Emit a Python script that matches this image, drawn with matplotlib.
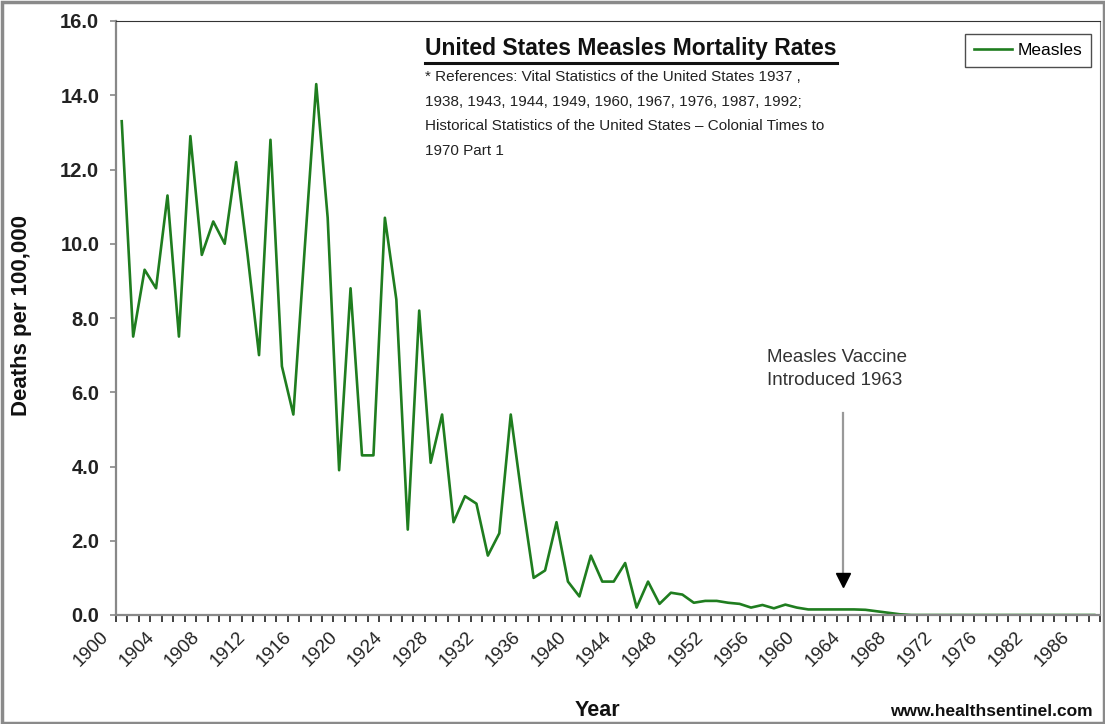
import matplotlib
matplotlib.use("Agg")
import matplotlib.pyplot as plt
import matplotlib.transforms as mtransforms
from matplotlib.lines import Line2D
from matplotlib.patches import Rectangle
import numpy as np

plt.rcParams['font.family'] = ['Liberation Sans', 'DejaVu Sans']

# categories (the original sheet skips a few years after 1976)
years = list(range(1900, 1977)) + [1977, 1978, 1980] + list(range(1982, 1988))
# deaths per 100,000
measles = [13.3, 7.5, 9.3, 8.8, 11.3, 7.5, 12.9, 9.7, 10.6, 10.0,
           12.2, 9.7, 7.0, 12.8, 6.7, 5.4, 9.9, 14.3, 10.7, 3.9,
           8.8, 4.3, 4.3, 10.7, 8.5, 2.3, 8.2, 4.1, 5.4, 2.5,
           3.2, 3.0, 1.6, 2.2, 5.4, 3.1, 1.0, 1.2, 2.5, 0.9,
           0.5, 1.6, 0.9, 0.9, 1.4, 0.2, 0.9, 0.3, 0.6, 0.55,
           0.33, 0.38, 0.38, 0.33, 0.3, 0.2, 0.27, 0.18, 0.28, 0.2,
           0.15, 0.15, 0.15, 0.15, 0.15, 0.14, 0.1, 0.06, 0.02]
measles = measles + [0.0] * (len(years) - len(measles))
yticks = [0, 2, 4, 6, 8, 10, 12, 14, 16]
vaccine_year = 1963

refs = ["* References: Vital Statistics of the United States 1937 ,",
        "1938, 1943, 1944, 1949, 1960, 1967, 1976, 1987, 1992;",
        "Historical Statistics of the United States \u2013 Colonial Times to",
        "1970 Part 1"]

W, H = 1105, 724
fig = plt.figure(figsize=(W / 100, H / 100), dpi=100)
fig.patch.set_facecolor('white')
ax = fig.add_axes([116 / W, 1 - 615 / H, (1100 - 116) / W, (615 - 21) / H])

x = np.arange(len(years))
ax.plot(x, measles, color='#1f7d1f', lw=1.9, label='Measles')

ax.set_xlim(-0.5, len(years) - 0.5)
ax.set_ylim(0, 16)

# y axis
ax.set_yticks(yticks)
ax.set_yticklabels(['%.1f' % v for v in yticks], fontsize=14.5, fontweight='bold', color='#222222')
ax.tick_params(axis='y', direction='out', length=4, width=1.2, color='#888888', pad=8)

# x axis: ticks between categories, labels every 4th category
ax.set_xticks(x[::4])
ax.set_xticklabels([str(years[i]) for i in x[::4]], rotation=45, ha='right',
                   rotation_mode='anchor', fontsize=13.5, color='#222222', va='center')
ax.set_xticks(np.arange(len(years) + 1) - 0.5, minor=True)
ax.tick_params(axis='x', which='major', length=0, pad=14)
ax.tick_params(axis='x', which='minor', direction='out', length=5, width=1.3, color='#333333')
off = mtransforms.ScaledTranslation(-0.16, 0, fig.dpi_scale_trans)
for lab in ax.get_xticklabels():
    lab.set_transform(lab.get_transform() + off)

for side in ['left', 'bottom']:
    ax.spines[side].set_color('#888888')
    ax.spines[side].set_linewidth(1.6)
ax.spines['top'].set_color('#333333')
ax.spines['right'].set_color('#777777')

# vaccine annotation
vi = years.index(vaccine_year)
ax.plot([vi, vi], [0.95, 5.45], color='#999999', lw=1.6)
ax.plot(vi, 0.95, marker='v', color='black', markersize=10)
ax.text(56.4, 6.62, 'Measles Vaccine\nIntroduced 1963', fontsize=13.5, color='#333333',
        ha='left', va='center', linespacing=1.45)

leg = ax.legend(loc='upper right', bbox_to_anchor=(1091 / W, 1 - 34 / H),
                bbox_transform=fig.transFigure, frameon=True, fancybox=False,
                borderaxespad=0, fontsize=12.5, handlelength=2.2, handletextpad=0.3,
                borderpad=0.5)
leg.get_frame().set_edgecolor('#222222')
leg.get_frame().set_linewidth(1.0)

# title with underline and reference note
t = fig.text(425 / W, 1 - 49 / H, 'United States Measles Mortality Rates', fontsize=16.5,
             fontweight='bold', ha='left', va='center', color='#111111')
for k, line in enumerate(refs):
    fig.text(425 / W, 1 - (77 + 24.7 * k) / H, line, fontsize=11, ha='left', va='center',
             color='#222222')

fig.text(22 / W, 1 - 316 / H, 'Deaths per 100,000', rotation=90, fontsize=16,
         fontweight='bold', ha='center', va='center', color='#111111')
fig.text(597 / W, 1 - 710 / H, 'Year', fontsize=15.5, fontweight='bold', ha='center',
         va='center', color='#111111')
fig.text(1093 / W, 1 - 711 / H, 'www.healthsentinel.com', fontsize=12.5, fontweight='bold',
         ha='right', va='center', color='#111111')

fig.canvas.draw()
bb = t.get_window_extent().transformed(fig.transFigure.inverted())
fig.add_artist(Line2D([bb.x0, bb.x1], [bb.y0 - 2 / H, bb.y0 - 2 / H], color='#111111',
                      lw=2.2, transform=fig.transFigure))

# outer frame of the picture
fig.add_artist(Rectangle((1.5 / W, 1.5 / H), 1 - 3 / W, 1 - 3 / H, fill=False,
                         edgecolor='#8a8a8a', lw=2.5, transform=fig.transFigure))

fig.savefig('out.png', dpi=100)
